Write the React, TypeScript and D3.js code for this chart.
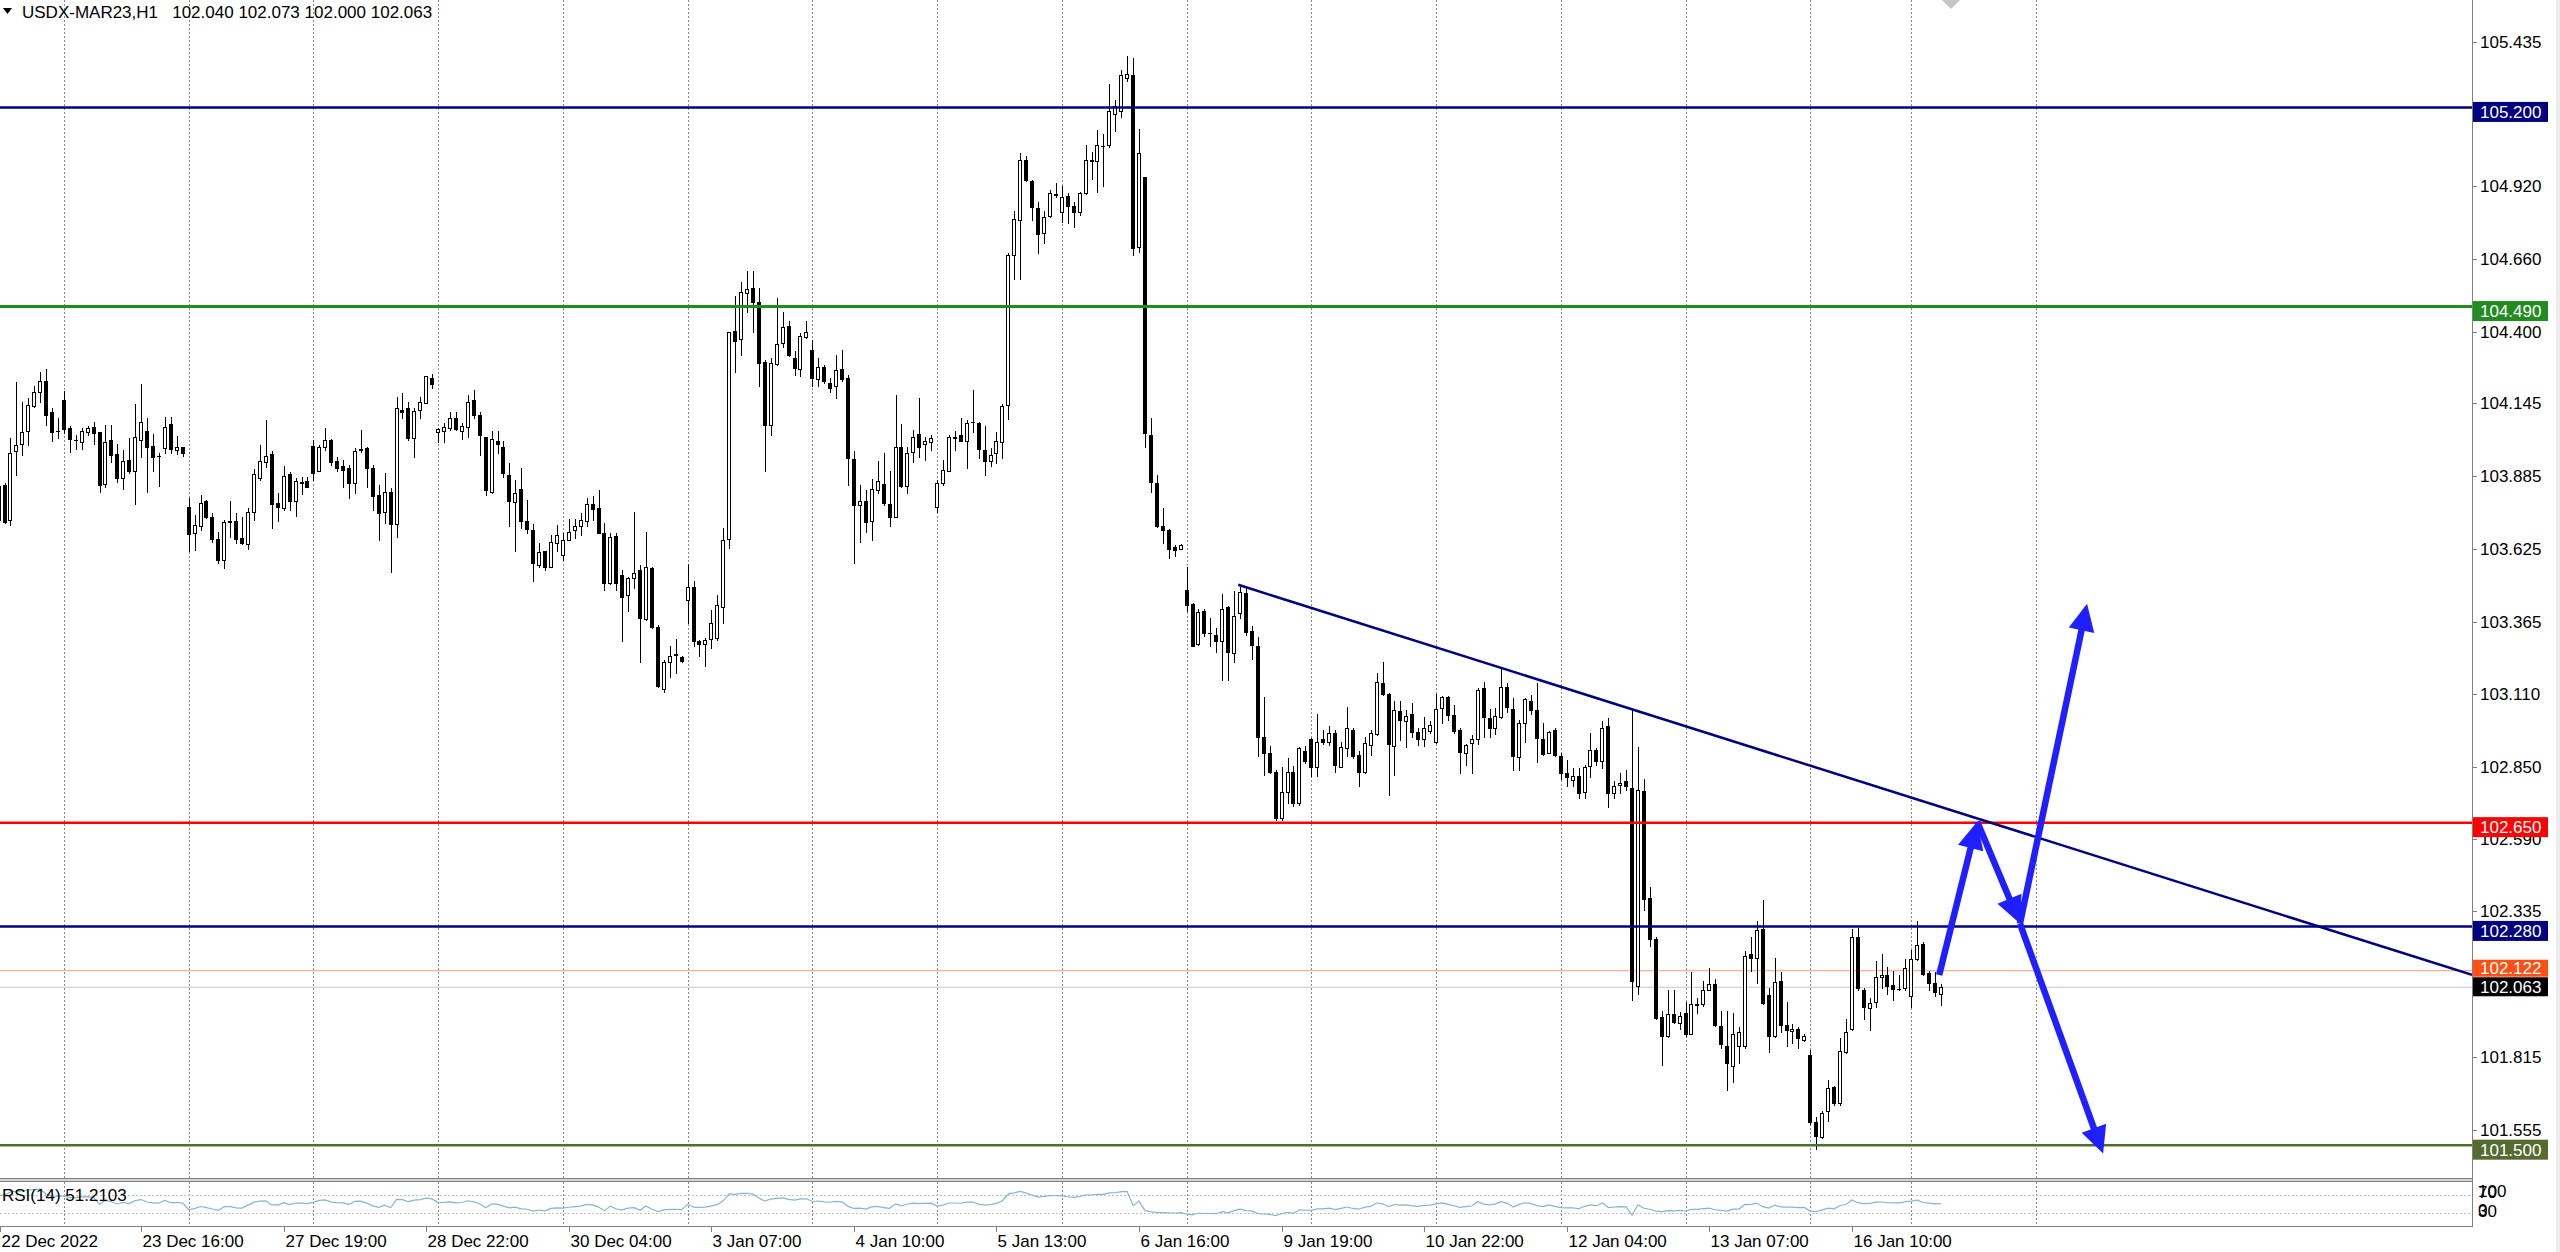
import React, { useEffect } from "react";
import * as d3 from "d3";

// ---------- DATA ----------
const symbolTitle = "USDX-MAR23,H1   102.040 102.073 102.000 102.063";
const rsiTitle = "RSI(14) 51.2103";

// hourly candles [open, high, low, close]
const ohlc: [number, number, number, number][] = [
  [103.850, 103.860, 103.720, 103.730], [103.854, 103.860, 103.717, 103.723], [103.729, 104.020, 103.711, 103.969], [103.975, 104.222, 103.890, 103.997],
  [104.000, 104.151, 103.961, 104.042], [104.046, 104.163, 103.997, 104.139], [104.137, 104.205, 104.133, 104.184], [104.187, 104.258, 104.151, 104.226],
  [104.225, 104.266, 104.068, 104.104], [104.115, 104.127, 104.012, 104.042], [104.046, 104.092, 104.023, 104.045], [104.157, 104.189, 104.038, 104.052],
  [104.058, 104.064, 103.973, 104.018], [104.016, 104.032, 103.982, 104.013], [104.006, 104.056, 103.982, 104.046], [104.042, 104.064, 104.032, 104.058],
  [104.060, 104.080, 104.000, 104.038], [104.044, 104.044, 103.830, 103.854], [103.858, 104.068, 103.848, 104.008], [104.014, 104.068, 103.937, 103.961],
  [103.963, 104.000, 103.866, 103.880], [103.878, 103.979, 103.840, 103.941], [103.943, 104.020, 103.896, 103.902], [103.902, 104.142, 103.786, 104.026],
  [104.014, 104.213, 103.955, 104.077], [104.046, 104.092, 103.830, 103.991], [103.994, 104.035, 103.904, 103.952], [103.958, 103.967, 103.850, 103.957],
  [103.987, 104.098, 103.967, 104.062], [104.070, 104.098, 103.967, 103.982], [103.979, 104.030, 103.963, 103.991], [103.988, 103.991, 103.957, 103.967],
  [103.774, 103.806, 103.620, 103.680], [103.682, 103.747, 103.622, 103.711], [103.708, 103.818, 103.694, 103.791], [103.795, 103.801, 103.735, 103.738],
  [103.738, 103.755, 103.652, 103.662], [103.662, 103.688, 103.575, 103.587], [103.587, 103.729, 103.559, 103.721], [103.723, 103.795, 103.670, 103.724],
  [103.725, 103.753, 103.646, 103.662], [103.666, 103.741, 103.644, 103.646], [103.643, 103.771, 103.626, 103.757], [103.759, 103.910, 103.729, 103.892],
  [103.880, 103.997, 103.872, 103.941], [103.937, 104.086, 103.919, 103.957], [103.963, 103.975, 103.700, 103.785], [103.791, 103.824, 103.726, 103.777],
  [103.773, 103.923, 103.765, 103.886], [103.892, 103.901, 103.765, 103.795], [103.797, 103.878, 103.745, 103.868], [103.862, 103.884, 103.821, 103.863],
  [103.868, 103.884, 103.845, 103.848], [103.994, 104.014, 103.872, 103.896], [103.904, 103.997, 103.902, 103.991], [103.991, 104.058, 103.979, 104.014],
  [104.014, 104.017, 103.925, 103.937], [103.941, 103.955, 103.902, 103.916], [103.923, 103.943, 103.848, 103.908], [103.913, 103.925, 103.807, 103.862],
  [103.860, 103.987, 103.827, 103.975], [103.981, 104.050, 103.973, 103.980], [103.987, 103.991, 103.848, 103.916], [103.913, 103.925, 103.765, 103.815],
  [103.818, 103.854, 103.658, 103.753], [103.757, 103.896, 103.717, 103.828], [103.830, 103.842, 103.543, 103.715], [103.715, 104.169, 103.670, 104.127],
  [104.121, 104.181, 104.092, 104.115], [104.130, 104.151, 104.014, 104.020], [104.020, 104.130, 103.955, 104.118], [104.121, 104.169, 104.092, 104.149],
  [104.147, 104.243, 104.145, 104.243], [104.237, 104.249, 104.199, 104.214], [104.042, 104.056, 104.008, 104.052], [104.046, 104.074, 104.008, 104.062],
  [104.058, 104.115, 104.050, 104.092], [104.092, 104.115, 104.050, 104.052], [104.046, 104.074, 104.018, 104.064], [104.060, 104.175, 104.026, 104.149],
  [104.157, 104.193, 104.092, 104.104], [104.103, 104.115, 103.960, 104.032], [104.026, 104.026, 103.818, 103.836], [103.830, 104.047, 103.824, 104.017],
  [104.012, 104.047, 103.967, 104.000], [103.991, 104.012, 103.884, 103.898], [103.890, 103.931, 103.706, 103.795], [103.792, 103.872, 103.617, 103.827],
  [103.840, 103.914, 103.700, 103.727], [103.724, 103.801, 103.684, 103.696], [103.694, 103.715, 103.510, 103.575], [103.567, 103.646, 103.560, 103.614],
  [103.617, 103.617, 103.551, 103.560], [103.563, 103.674, 103.563, 103.650], [103.646, 103.712, 103.617, 103.674], [103.605, 103.684, 103.587, 103.656],
  [103.658, 103.732, 103.658, 103.688], [103.694, 103.732, 103.664, 103.708], [103.709, 103.753, 103.676, 103.729], [103.724, 103.807, 103.709, 103.785],
  [103.787, 103.815, 103.729, 103.767], [103.771, 103.836, 103.682, 103.684], [103.682, 103.718, 103.480, 103.506], [103.504, 103.682, 103.501, 103.670],
  [103.672, 103.682, 103.480, 103.504], [103.533, 103.551, 103.296, 103.456], [103.462, 103.527, 103.403, 103.521], [103.521, 103.756, 103.486, 103.541],
  [103.551, 103.569, 103.221, 103.379], [103.375, 103.688, 103.373, 103.561], [103.557, 103.563, 103.343, 103.349], [103.349, 103.355, 103.135, 103.138],
  [103.126, 103.230, 103.114, 103.224], [103.221, 103.278, 103.171, 103.245], [103.249, 103.304, 103.183, 103.250], [103.242, 103.245, 103.223, 103.228],
  [103.442, 103.571, 103.361, 103.490], [103.490, 103.510, 103.278, 103.296], [103.298, 103.302, 103.245, 103.288], [103.286, 103.308, 103.207, 103.302],
  [103.304, 103.409, 103.272, 103.361], [103.308, 103.462, 103.302, 103.427], [103.418, 103.700, 103.361, 103.658], [103.661, 104.401, 103.628, 104.401],
  [104.403, 104.526, 104.258, 104.368], [104.374, 104.579, 104.318, 104.543], [104.540, 104.618, 104.472, 104.553], [104.555, 104.618, 104.401, 104.508],
  [104.508, 104.555, 104.207, 104.290], [104.294, 104.300, 103.902, 104.068], [104.068, 104.306, 104.032, 104.288], [104.284, 104.520, 104.282, 104.356],
  [104.359, 104.472, 104.347, 104.416], [104.419, 104.440, 104.312, 104.318], [104.306, 104.330, 104.246, 104.270], [104.268, 104.395, 104.243, 104.385],
  [104.383, 104.440, 104.377, 104.401], [104.336, 104.371, 104.205, 104.235], [104.231, 104.306, 104.207, 104.276], [104.274, 104.282, 104.219, 104.223],
  [104.219, 104.237, 104.187, 104.201], [104.205, 104.318, 104.163, 104.264], [104.267, 104.336, 104.223, 104.231], [104.237, 104.246, 103.854, 103.949],
  [103.947, 103.975, 103.575, 103.783], [103.783, 103.854, 103.652, 103.798], [103.798, 103.836, 103.688, 103.721], [103.726, 103.874, 103.656, 103.839],
  [103.836, 103.940, 103.824, 103.868], [103.858, 103.967, 103.783, 103.789], [103.785, 103.905, 103.706, 103.738], [103.741, 104.173, 103.741, 103.989],
  [103.991, 104.072, 103.846, 103.851], [103.851, 103.991, 103.825, 103.967], [103.973, 104.050, 103.937, 104.024], [104.035, 104.165, 103.952, 103.991],
  [104.000, 104.026, 103.943, 104.012], [104.006, 104.032, 103.979, 104.021], [103.777, 103.872, 103.759, 103.860], [103.862, 103.943, 103.854, 103.908],
  [103.905, 104.032, 103.902, 104.026], [104.020, 104.047, 103.979, 104.026], [104.032, 104.092, 104.009, 104.012], [104.012, 104.086, 103.914, 104.076],
  [104.080, 104.193, 104.044, 104.079], [104.076, 104.080, 103.949, 103.983], [103.979, 104.065, 103.890, 103.941], [103.940, 103.985, 103.920, 103.961],
  [103.967, 104.044, 103.932, 104.012], [104.008, 104.142, 103.951, 104.136], [104.140, 104.681, 104.089, 104.673], [104.673, 104.830, 104.590, 104.802],
  [104.798, 105.036, 104.590, 105.014], [105.011, 105.027, 104.938, 104.941], [104.937, 104.942, 104.798, 104.845], [104.843, 104.862, 104.680, 104.747],
  [104.754, 104.830, 104.718, 104.808], [104.813, 104.906, 104.811, 104.896], [104.890, 104.929, 104.881, 104.889], [104.827, 104.919, 104.792, 104.881],
  [104.885, 104.894, 104.789, 104.849], [104.849, 104.862, 104.773, 104.826], [104.827, 104.900, 104.817, 104.896], [104.894, 105.065, 104.891, 105.014],
  [105.010, 105.040, 104.945, 105.011], [105.008, 105.120, 104.900, 105.065], [105.062, 105.104, 104.919, 105.063], [105.065, 105.282, 105.059, 105.189],
  [105.177, 105.227, 105.116, 105.205], [105.186, 105.333, 105.167, 105.314], [105.304, 105.384, 105.295, 105.320], [105.314, 105.377, 104.675, 104.700],
  [104.703, 105.123, 104.684, 105.036], [104.953, 104.953, 103.990, 104.038], [104.032, 104.091, 103.830, 103.865], [103.862, 103.888, 103.703, 103.707],
  [103.707, 103.773, 103.648, 103.694], [103.694, 103.697, 103.595, 103.627], [103.633, 103.640, 103.601, 103.623], [103.627, 103.643, 103.624, 103.640],
  [103.480, 103.563, 103.405, 103.426], [103.430, 103.432, 103.278, 103.280], [103.287, 103.412, 103.284, 103.400], [103.405, 103.411, 103.316, 103.325],
  [103.327, 103.379, 103.278, 103.326], [103.319, 103.343, 103.260, 103.296], [103.296, 103.465, 103.159, 103.411], [103.418, 103.423, 103.159, 103.260],
  [103.256, 103.476, 103.221, 103.387], [103.396, 103.498, 103.379, 103.474], [103.470, 103.486, 103.319, 103.328], [103.334, 103.352, 103.233, 103.284],
  [103.280, 103.311, 102.886, 102.954], [102.957, 103.097, 102.821, 102.898], [102.898, 102.922, 102.826, 102.832], [102.832, 102.836, 102.660, 102.666],
  [102.666, 102.850, 102.660, 102.761], [102.761, 102.880, 102.720, 102.832], [102.832, 102.853, 102.710, 102.720], [102.720, 102.919, 102.714, 102.916],
  [102.907, 102.924, 102.862, 102.871], [102.948, 102.951, 102.815, 102.850], [102.850, 103.038, 102.815, 102.939], [102.948, 102.979, 102.930, 102.939],
  [102.937, 102.993, 102.927, 102.971], [102.971, 102.979, 102.829, 102.856], [102.850, 102.939, 102.848, 102.921], [102.916, 103.064, 102.886, 102.987],
  [102.981, 102.987, 102.880, 102.886], [102.892, 102.904, 102.779, 102.832], [102.832, 102.957, 102.826, 102.933], [102.927, 102.979, 102.892, 102.969],
  [102.967, 103.183, 102.963, 103.153], [103.147, 103.221, 103.106, 103.108], [103.108, 103.112, 102.749, 102.930], [102.924, 103.082, 102.821, 103.052],
  [103.049, 103.085, 102.945, 103.017], [103.013, 103.052, 102.921, 103.031], [103.037, 103.076, 102.957, 102.973], [102.973, 102.987, 102.927, 102.948],
  [102.948, 103.028, 102.924, 102.987], [102.977, 103.011, 102.971, 102.999], [102.936, 103.108, 102.933, 103.055], [103.058, 103.102, 103.005, 103.097],
  [103.097, 103.100, 103.017, 103.034], [103.034, 103.068, 102.971, 102.975], [102.981, 102.987, 102.826, 102.901], [102.900, 102.930, 102.856, 102.927],
  [102.933, 102.963, 102.826, 102.948], [102.949, 103.129, 102.930, 103.124], [103.129, 103.153, 102.957, 103.025], [103.022, 103.055, 102.957, 102.989],
  [102.987, 103.058, 102.967, 103.031], [103.028, 103.197, 103.022, 103.132], [103.133, 103.147, 103.046, 103.064], [103.056, 103.096, 102.838, 102.889],
  [102.883, 103.017, 102.838, 103.007], [103.005, 103.094, 102.939, 103.090], [103.084, 103.106, 103.037, 103.052], [103.052, 103.147, 102.866, 102.951],
  [102.948, 103.005, 102.892, 102.895], [102.900, 102.977, 102.898, 102.973], [102.979, 102.987, 102.886, 102.892], [102.886, 102.900, 102.805, 102.826],
  [102.826, 102.874, 102.779, 102.811], [102.803, 102.844, 102.779, 102.815], [102.818, 102.844, 102.737, 102.757], [102.761, 102.856, 102.737, 102.850],
  [102.853, 102.969, 102.814, 102.910], [102.910, 102.916, 102.856, 102.868], [102.868, 103.013, 102.844, 102.987], [102.993, 103.022, 102.705, 102.755],
  [102.757, 102.797, 102.737, 102.779], [102.785, 102.826, 102.755, 102.793], [102.797, 102.838, 102.767, 102.781], [102.773, 103.051, 102.018, 102.086],
  [102.066, 102.918, 102.039, 102.768], [102.764, 102.805, 102.339, 102.376], [102.382, 102.421, 102.209, 102.236], [102.236, 102.243, 101.950, 101.953],
  [101.957, 101.977, 101.786, 101.891], [101.888, 102.052, 101.885, 101.968], [101.968, 102.052, 101.934, 101.939], [101.936, 101.975, 101.916, 101.961],
  [101.970, 102.011, 101.889, 101.895], [101.898, 102.116, 101.895, 102.004], [102.002, 102.025, 101.970, 102.001], [102.004, 102.086, 101.998, 102.052],
  [102.055, 102.130, 102.052, 102.075], [102.075, 102.093, 101.925, 101.930], [101.925, 101.977, 101.848, 101.861], [101.855, 101.977, 101.698, 101.793],
  [101.782, 101.973, 101.725, 101.898], [101.855, 101.923, 101.793, 101.902], [101.852, 102.193, 101.848, 102.175], [102.182, 102.243, 102.120, 102.166],
  [102.168, 102.298, 102.080, 102.266], [102.270, 102.373, 102.004, 102.007], [102.034, 102.059, 101.834, 101.888], [101.888, 102.168, 101.884, 102.082],
  [102.086, 102.116, 101.902, 101.929], [101.929, 102.011, 101.854, 101.912], [101.907, 101.933, 101.865, 101.916], [101.916, 101.923, 101.848, 101.882],
  [101.875, 101.895, 101.871, 101.889], [101.820, 101.841, 101.575, 101.582], [101.582, 101.602, 101.486, 101.534], [101.530, 101.622, 101.524, 101.616],
  [101.622, 101.732, 101.588, 101.704], [101.707, 101.711, 101.643, 101.650], [101.650, 101.882, 101.643, 101.837], [101.834, 101.950, 101.827, 101.902],
  [101.916, 102.271, 101.909, 102.243], [102.243, 102.275, 102.052, 102.059], [102.055, 102.059, 101.950, 101.991], [101.988, 102.025, 101.909, 102.007],
  [102.011, 102.155, 101.993, 102.100], [102.100, 102.182, 102.059, 102.107], [102.107, 102.134, 102.039, 102.066], [102.070, 102.120, 102.018, 102.057],
  [102.057, 102.107, 102.052, 102.056], [102.059, 102.164, 102.052, 102.131], [102.032, 102.196, 101.991, 102.164], [102.164, 102.298, 102.161, 102.212],
  [102.216, 102.223, 102.107, 102.110], [102.114, 102.120, 102.052, 102.079], [102.079, 102.116, 102.032, 102.045], [102.040, 102.073, 102.000, 102.063],
];

// bars where a new trading session starts (vertical grid lines)
const sessionStartBars = [11, 32, 53, 74, 95, 116, 137, 158, 179, 200, 221, 242, 263, 284, 305, 322, 343];

// time axis labels
const timeLabelBars = [0, 24, 48, 72, 96, 120, 144, 168, 192, 216, 240, 264, 288, 312];
const timeLabelTexts = [
  "22 Dec 2022", "23 Dec 16:00", "27 Dec 19:00", "28 Dec 22:00", "30 Dec 04:00", "3 Jan 07:00", "4 Jan 10:00",
  "5 Jan 13:00", "6 Jan 16:00", "9 Jan 19:00", "10 Jan 22:00", "12 Jan 04:00", "13 Jan 07:00", "16 Jan 10:00",
];

// price axis labels
const priceTicks = [105.435, 105.175, 104.92, 104.66, 104.4, 104.145, 103.885, 103.625, 103.365, 103.11, 102.85, 102.59, 102.335, 102.075, 101.815, 101.555];

// horizontal levels
const levelPrices = [105.2, 104.49, 102.65, 102.28, 101.5];
const levelColors = ["#000080", "#228B22", "#FF0000", "#000080", "#556B2F"];
const askPrice = 102.122;
const bidPrice = 102.063;

// trend line (bar index, price) – a ray to the right
const trendPoints: [number, number][] = [[208.7, 103.498], [333.1, 102.665]];

// scenario arrows (bar index, price)
const arrowPaths: [number, number][][] = [
  [[326.7, 102.107], [333.1, 102.653]],
  [[333.1, 102.653], [340.3, 102.29]],
  [[340.3, 102.29], [351.6, 103.43]],
  [[340.3, 102.29], [354.3, 101.47]],
];

const rsiLevels = [70, 30];
const rsiAxisLabels = [100, 70, 30, 0];

// ---------- LAYOUT ----------
const W = 2560;
const H = 1252;
const PLOT_R = 2472;
const MAIN_B = 1178;
const RSI_T = 1182;
const RSI_B = 1226;
const FONT = "'Liberation Sans', Arial, sans-serif";

function rsi14(closes: number[]): number[] {
  const n = 14;
  let g0 = 0, l0 = 0;
  for (let i = 1; i <= n; i++) {
    const ch = closes[i] - closes[i - 1];
    g0 += Math.max(ch, 0);
    l0 += Math.max(-ch, 0);
  }
  let ag = g0 / n, al = l0 / n;
  const out: number[] = [100 - 100 / (1 + ag / al)];
  for (let i = 1; i < closes.length; i++) {
    const ch = closes[i] - closes[i - 1];
    ag = (ag * (n - 1) + Math.max(ch, 0)) / n;
    al = (al * (n - 1) + Math.max(-ch, 0)) / n;
    out.push(al === 0 ? 100 : 100 - 100 / (1 + ag / al));
  }
  return out;
}

export default function App() {
  useEffect(() => {
    document.body.style.margin = "0";
    document.body.style.overflow = "hidden";
  }, []);

  const x = d3.scaleLinear().domain([0, 1]).range([-1.44, 4.5]);
  const y = d3.scaleLinear().domain([105.583, 101.383]).range([0, MAIN_B]);
  const yr = d3.scaleLinear().domain([0, 100]).range([RSI_B, RSI_T]);

  const rsi = rsi14(ohlc.map((d) => d[3]));
  const rsiLine = d3
    .line<number>()
    .x((_, i) => x(i))
    .y((v) => yr(v));

  const [t0, t1] = trendPoints;
  const slope = (t1[1] - t0[1]) / (t1[0] - t0[0]);
  const tEndBar = x.invert(PLOT_R);
  const tEndPrice = t0[1] + slope * (tEndBar - t0[0]);

  const arrowEls = arrowPaths.map((pts, k) => {
    const [a, b] = pts;
    const x1 = x(a[0]), y1 = y(a[1]), x2 = x(b[0]), y2 = y(b[1]);
    const dx = x2 - x1, dy = y2 - y1;
    const len = Math.hypot(dx, dy);
    const ux = dx / len, uy = dy / len;
    const L = 27, hw = 13;
    const bx = x2 - ux * L, by = y2 - uy * L;
    const px = -uy, py = ux;
    const head = [
      [x2, y2],
      [bx + px * hw, by + py * hw],
      [bx - px * hw, by - py * hw],
    ];
    return (
      <g key={k}>
        <line x1={x1} y1={y1} x2={bx + ux * 2} y2={by + uy * 2} stroke="#1f1fff" strokeWidth={6.5} />
        <polygon points={head.map((p) => p.join(",")).join(" ")} fill="#1f1fff" />
      </g>
    );
  });

  const candleEls = ohlc.map(([o, h, l, c], i) => {
    const px = Math.round(x(i));
    const up = c >= o;
    const top = Math.round(y(Math.max(o, c))) + 0.5;
    const bot = Math.round(y(Math.min(o, c))) + 0.5;
    const wx = px + 0.5;
    const parts = [
      <line key="w" x1={wx} x2={wx} y1={Math.round(y(h))} y2={Math.round(y(l)) + 1} stroke="#000" strokeWidth={1} />,
    ];
    if (bot - top < 1) {
      parts.push(<line key="b" x1={px - 2} x2={px + 2} y1={top} y2={top} stroke="#000" strokeWidth={1} />);
    } else {
      parts.push(
        <rect key="b" x={px - 1.5} y={top} width={3} height={bot - top} fill={up ? "#fff" : "#000"} stroke="#000" strokeWidth={1} />
      );
    }
    return <g key={i}>{parts}</g>;
  });

  const boxes = [
    ...levelPrices.map((p, i) => ({ price: p, color: levelColors[i], dy: 4.5, h: 20 })),
    { price: askPrice, color: "#FF4F12", dy: -2.5, h: 17 },
    { price: bidPrice, color: "#000000", dy: -0.5, h: 19 },
  ];

  return (
    <svg width={W} height={H} style={{ position: "absolute", left: 0, top: 0, display: "block", background: "#fff" }} fontFamily={FONT}>
      <defs>
        <clipPath id="mainClip">
          <rect x={0} y={0} width={PLOT_R} height={MAIN_B} />
        </clipPath>
        <clipPath id="rsiClip">
          <rect x={0} y={RSI_T} width={PLOT_R} height={RSI_B - RSI_T} />
        </clipPath>
      </defs>
      <rect x={0} y={0} width={W} height={H} fill="#fff" />
      <rect x={W - 4} y={0} width={4} height={H} fill="#ececec" />

      {sessionStartBars.map((b) => {
        const gx = Math.round(x(b)) + 0.5;
        return (
          <g key={b} stroke="#8a8a8a" strokeWidth={1} strokeDasharray="2,2">
            <line x1={gx} x2={gx} y1={0} y2={MAIN_B} />
            <line x1={gx} x2={gx} y1={RSI_T} y2={RSI_B} />
          </g>
        );
      })}

      <g clipPath="url(#mainClip)">
        <line x1={0} x2={PLOT_R} y1={y(askPrice)} y2={y(askPrice)} stroke="#f49a78" strokeWidth={1} />
        <line x1={0} x2={PLOT_R} y1={y(bidPrice)} y2={y(bidPrice)} stroke="#c8c8c8" strokeWidth={1} />
        {candleEls}
        {levelPrices.map((p, i) => (
          <line key={p} x1={0} x2={PLOT_R} y1={y(p)} y2={y(p)} stroke={levelColors[i]} strokeWidth={i === 1 ? 3 : 2.5} />
        ))}
        <line x1={x(t0[0])} y1={y(t0[1])} x2={PLOT_R} y2={y(tEndPrice)} stroke="#000080" strokeWidth={2.5} />
        {arrowEls}
        <polygon points="1942,0 1951,-9 1960,0 1951,9" fill="#c4c4c4" />
      </g>

      <polygon points="3,8 12,8 7.5,14" fill="#000" />
      <text x={22} y={18} fontSize={17} fill="#000" style={{ whiteSpace: "pre" }}>{symbolTitle}</text>

      <rect x={0} y={MAIN_B} width={PLOT_R} height={RSI_T - MAIN_B} fill="#d4d4d4" />
      <line x1={0} x2={PLOT_R + 1} y1={MAIN_B + 0.5} y2={MAIN_B + 0.5} stroke="#808080" strokeWidth={1} />
      <line x1={0} x2={PLOT_R + 1} y1={RSI_T - 0.5} y2={RSI_T - 0.5} stroke="#808080" strokeWidth={1} />
      <line x1={0} x2={PLOT_R + 1} y1={RSI_B + 0.5} y2={RSI_B + 0.5} stroke="#808080" strokeWidth={1} />
      <line x1={PLOT_R + 0.5} x2={PLOT_R + 0.5} y1={0} y2={RSI_B + 1} stroke="#808080" strokeWidth={1} />

      {rsiLevels.map((v) => (
        <line key={v} x1={0} x2={PLOT_R} y1={Math.round(yr(v)) + 0.5} y2={Math.round(yr(v)) + 0.5} stroke="#c0c0c0" strokeWidth={1} strokeDasharray="2,2" />
      ))}
      <g clipPath="url(#rsiClip)">
        <path d={rsiLine(rsi) || ""} fill="none" stroke="#86b6cc" strokeWidth={1.2} />
      </g>
      <text x={2} y={1201} fontSize={17} fill="#000">{rsiTitle}</text>
      {rsiAxisLabels.map((v) => (
        <text key={v} x={PLOT_R + 6} y={(v >= 70 ? 1198 : 1217) + (v === 100 || v === 0 ? -1 : 0)} fontSize={17} fill="#000">
          {v}
        </text>
      ))}

      {priceTicks.map((p) => (
        <g key={p}>
          <line x1={PLOT_R} x2={PLOT_R + 5} y1={Math.round(y(p)) + 0.5} y2={Math.round(y(p)) + 0.5} stroke="#808080" />
          <text x={PLOT_R + 8} y={y(p) + 6} fontSize={17} fill="#000">
            {d3.format(".3f")(p)}
          </text>
        </g>
      ))}
      {boxes.map((b, i) => {
        const cy = y(b.price) + b.dy;
        return (
          <g key={i}>
            <rect x={PLOT_R + 1} y={cy - b.h / 2} width={75} height={b.h} fill={b.color} />
            <text x={PLOT_R + 8} y={cy + 6} fontSize={17} fill="#fff">
              {d3.format(".3f")(b.price)}
            </text>
          </g>
        );
      })}

      {timeLabelBars.map((b, i) => {
        const tx = Math.max(Math.round(x(b)), 0) + 0.5;
        return (
          <g key={b}>
            <line x1={tx} x2={tx} y1={RSI_B} y2={RSI_B + 6} stroke="#808080" />
            <text x={tx + 1} y={1247} fontSize={17} fill="#000">
              {timeLabelTexts[i]}
            </text>
          </g>
        );
      })}
    </svg>
  );
}
